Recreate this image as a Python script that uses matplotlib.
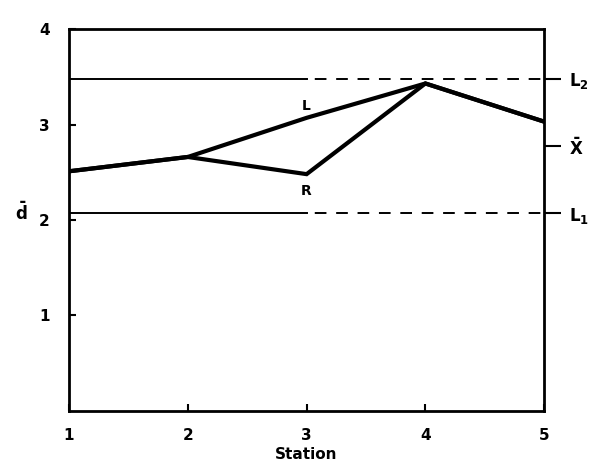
import matplotlib
matplotlib.use("Agg")
import matplotlib.pyplot as plt

# station means of d
stations = [1, 2, 3, 4, 5]
d_left = [2.51, 2.66, 3.07, 3.43, 3.03]
d_right = [2.51, 2.66, 2.48, 3.43, 3.03]

# control limits
lower_limit = 2.07
upper_limit = 3.48
grand_mean = 2.775
split_station = 3

fig = plt.figure(figsize=(6.0, 4.69), dpi=100)
ax = fig.add_axes([0.115, 0.124, 0.792, 0.814])

ax.plot(stations, d_left, color="black", lw=3.0, solid_joinstyle="miter", zorder=3)
ax.plot(stations, d_right, color="black", lw=3.0, solid_joinstyle="miter", zorder=3)

for lim in (lower_limit, upper_limit):
    ax.plot([stations[0], split_station], [lim, lim], color="black", lw=1.4)
    # start with a gap so the dashed part is clearly separate from the solid part
    ax.plot([split_station, stations[-1]], [lim, lim], color="black", lw=1.4,
            linestyle=(7, (6, 5)))

ax.text(3.0, 3.12, "L", ha="center", va="bottom", fontsize=10, fontweight="bold")
ax.text(3.0, 2.38, "R", ha="center", va="top", fontsize=10, fontweight="bold")

ax.set_xlim(1, 5)
ax.set_ylim(0, 4)
ax.set_xticks(stations)
ax.set_yticks([1, 2, 3, 4])
ax.tick_params(axis="both", direction="in", length=5, width=1.5, labelsize=11, pad=12)
for lab in ax.get_xticklabels() + ax.get_yticklabels():
    lab.set_fontweight("bold")
ax.tick_params(axis="y", pad=14)

for sp in ax.spines.values():
    sp.set_linewidth(2.0)

# right-hand axis with the limit labels
ax2 = ax.twinx()
ax2.set_ylim(0, 4)
ax2.set_yticks([lower_limit, grand_mean, upper_limit])
ax2.set_yticklabels(["$\\mathbf{L_1}$", "$\\mathbf{\\bar{X}}$", "$\\mathbf{L_2}$"])
ax2.tick_params(axis="y", direction="out", length=12, width=1.5, labelsize=12, pad=6)
for sp in ax2.spines.values():
    sp.set_visible(False)

ax.set_xlabel("Station", fontsize=11, fontweight="bold", labelpad=3)
ax.set_ylabel("$\\mathbf{\\bar{d}}$", fontsize=12, rotation=0)
ax.yaxis.set_label_coords(-0.10, 0.49)

fig.savefig("out.png", dpi=100)
